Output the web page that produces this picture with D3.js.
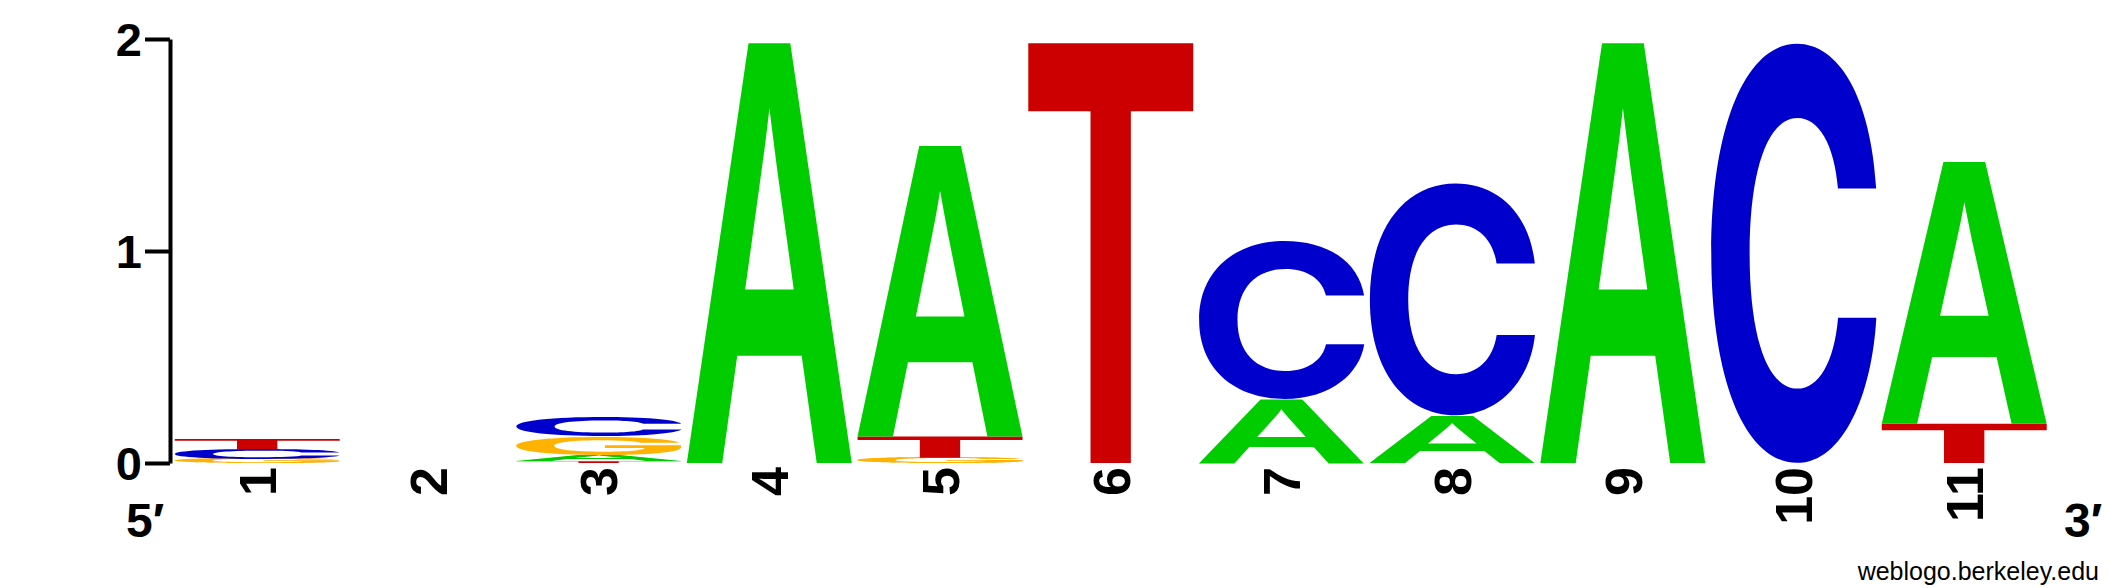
<!DOCTYPE html>
<html>
<head>
<meta charset="utf-8">
<script src="https://cdn.jsdelivr.net/npm/d3@7"></script>
<style>
  body { margin: 0; background: #fff; }
  svg { display: block; }
</style>
</head>
<body>
<div id="chart"></div>
<script>
// information content (bits) per base at each position
const positions = ["1", "2", "3", "4", "5", "6", "7", "8", "9", "10", "11"];
const bitsA = [0, 0, 0.03, 1.98, 1.37, 0, 0.30, 0.225, 1.98, 0, 1.235];
const bitsC = [0.045, 0, 0.092, 0, 0, 0, 0.745, 1.095, 0, 1.98, 0];
const bitsG = [0.02, 0, 0.088, 0, 0.025, 0, 0, 0, 0, 0, 0];
const bitsT = [0.048, 0, 0.008, 0, 0.1, 1.98, 0, 0, 0, 0, 0.185];
const yTicks = [0, 1, 2];

const colors = { A: "#00cc00", C: "#0000cc", G: "#ffb300", T: "#cc0000" };
const textFont = "'Liberation Sans', Arial, Helvetica, sans-serif";
// C and G with flat (horizontal) terminals, closer to the Helvetica glyphs
const letterFont = { A: "Liberation Sans", T: "Liberation Sans", C: "Inter", G: "Inter" };

const width = 2125;
const height = 588;

const svg = d3.select("#chart").append("svg")
    .attr("width", width)
    .attr("height", height);

svg.append("rect").attr("width", width).attr("height", height).attr("fill", "#fff");

const x = d3.scaleBand()
    .domain(positions)
    .range([172, 172 + 11 * 170.7])
    .paddingInner(0);

const y = d3.scaleLinear()
    .domain([0, 2])
    .range([463, 39]);

// ink box of each glyph: draw it on a canvas and scan the pixels
const FS = 500, OX = 200, OY = 700;
const cnv = document.createElement("canvas");
cnv.width = 1000; cnv.height = 1000;
const ctx = cnv.getContext("2d");
const ink = {};
["A", "C", "G", "T"].forEach(ch => {
    ctx.clearRect(0, 0, 1000, 1000);
    ctx.font = `bold ${FS}px "${letterFont[ch]}"`;
    ctx.textBaseline = "alphabetic";
    ctx.fillStyle = "#000";
    ctx.fillText(ch, OX, OY);
    const px = ctx.getImageData(0, 0, 1000, 1000).data;
    let x0 = 1e9, x1 = -1, y0 = 1e9, y1 = -1;
    for (let j = 0; j < 1000; j++) {
        for (let i = 0; i < 1000; i++) {
            if (px[(j * 1000 + i) * 4 + 3] > 127) {
                if (i < x0) x0 = i;
                if (i > x1) x1 = i;
                if (j < y0) y0 = j;
                if (j > y1) y1 = j;
            }
        }
    }
    const k = 1000 / FS;
    ink[ch] = { l: (OX - x0) * k, r: (x1 + 1 - OX) * k, a: (OY - y0) * k, d: (y1 + 1 - OY) * k };
});

// build stacks, smallest letter at the bottom
const stacks = positions.map((p, i) => {
    const letters = [
        { ch: "A", bits: bitsA[i] },
        { ch: "C", bits: bitsC[i] },
        { ch: "G", bits: bitsG[i] },
        { ch: "T", bits: bitsT[i] }
    ].filter(d => d.bits > 0).sort((a, b) => a.bits - b.bits);
    let base = 0;
    letters.forEach(d => { d.y0 = base; base += d.bits; d.y1 = base; d.pos = p; });
    return letters;
});

const pad = 3;
const g = svg.append("g").attr("class", "letters");

g.selectAll("text")
    .data(stacks.flat())
    .join("text")
    .attr("font-family", d => `"${letterFont[d.ch]}"`)
    .attr("font-weight", "bold")
    .attr("font-size", 1000)
    .attr("fill", d => colors[d.ch])
    .attr("transform", d => {
        const b = ink[d.ch];
        const w = x.bandwidth() - 2 * pad;
        const h = y(d.y0) - y(d.y1);
        const sx = w / (b.l + b.r);
        const sy = h / (b.a + b.d);
        return `translate(${x(d.pos) + pad},${y(d.y1)}) scale(${sx},${sy}) translate(${b.l},${b.a})`;
    })
    .text(d => d.ch);

// y axis
const yAxis = svg.append("g")
    .attr("transform", "translate(170,0)")
    .call(d3.axisLeft(y).tickValues(yTicks).tickFormat(d3.format("d")).tickSize(25).tickSizeOuter(0).tickPadding(3));

yAxis.select(".domain").attr("stroke", "#000").attr("stroke-width", 4);
yAxis.selectAll(".tick line").attr("stroke", "#000").attr("stroke-width", 4);
yAxis.selectAll(".tick text")
    .attr("font-family", textFont)
    .attr("font-weight", "bold")
    .attr("font-size", 47)
    .attr("dy", "0.36em")
    .attr("fill", "#000");

// x labels, rotated
svg.append("g").selectAll("text")
    .data(positions)
    .join("text")
    .attr("transform", d => `translate(${x(d) + x.bandwidth() / 2},467) rotate(-90)`)
    .attr("text-anchor", "end")
    .attr("dy", "0.36em")
    .attr("font-family", textFont)
    .attr("font-weight", "bold")
    .attr("font-size", 52)
    .text(d => d);

// ends
svg.append("text")
    .attr("x", 126).attr("y", 537)
    .attr("font-family", textFont).attr("font-weight", "bold").attr("font-size", 48)
    .text("5\u2032");

svg.append("text")
    .attr("x", 2064).attr("y", 537)
    .attr("font-family", textFont).attr("font-weight", "bold").attr("font-size", 48)
    .text("3\u2032");

svg.append("text")
    .attr("x", 2099).attr("y", 580)
    .attr("text-anchor", "end")
    .attr("font-family", textFont).attr("font-size", 25)
    .text("weblogo.berkeley.edu");
</script>
</body>
</html>
